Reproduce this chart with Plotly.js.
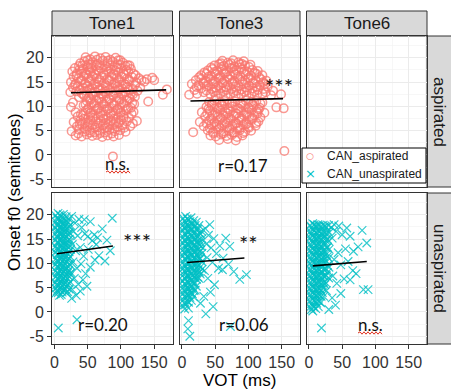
<!DOCTYPE html>
<html><head><meta charset="utf-8">
<script src="https://cdn.plot.ly/plotly-3.0.1.min.js"></script>
<style>html,body{margin:0;padding:0;background:#fff}#chart{width:451px;height:390px}</style>
</head><body><div id="chart"></div>
<script>
// ---------- categories / labels ----------
const tones = ["Tone1", "Tone3", "Tone6"];
const groups = ["aspirated", "unaspirated"];
const seriesNames = ["CAN_aspirated", "CAN_unaspirated"];
const xTickVals = [0, 50, 100, 150];
const yTickVals = [-5, 0, 5, 10, 15, 20];
const yTickText = ["-5", "0", "5", "10", "15", "20"];

// ---------- data: [VOT (ms), onset f0 (semitones)] ----------
const t1Asp = [
 [47,20.1],[54,19.7],[61,20.3],[69,19.9],[77,20.2],[84,19.6],[92,20.0],[99,19.5],
 [50,19.5],[64,19.6],[80,19.4],[96,19.5],
 [39,18.9],[45,19.3],[51,18.7],[58,19.1],[65,18.8],[73,19.4],[80,18.9],[88,19.2],[95,18.7],[103,19.0],[110,18.5],
 [42,18.4],[55,18.6],[68,18.5],[84,18.4],[99,18.6],[113,18.4],
 [31,17.9],[37,18.3],[43,17.7],[50,18.1],[56,17.8],[63,18.4],[70,17.9],[78,18.2],[85,17.6],[93,18.0],[100,17.8],[107,18.3],[115,17.7],
 [38,17.6],[52,17.4],[64,17.5],[78,17.6],[92,17.4],[108,17.5],
 [27,17.2],[34,16.8],[41,17.3],[47,16.9],[54,17.1],[60,16.7],[67,17.3],[74,16.9],[82,17.2],[89,16.6],[96,17.0],[104,16.8],[111,17.2],[119,16.7],
 [33,16.4],[48,16.6],[61,16.5],[75,16.4],[90,16.6],[105,16.5],[122,16.4],
 [29,16.1],[36,15.7],[44,16.2],[51,15.9],[57,16.3],[64,15.8],[71,16.0],[79,15.6],[86,16.2],[94,15.9],[101,16.1],[109,15.7],[117,16.0],[127,15.8],[139,15.6],[147,15.9],
 [41,15.4],[55,15.6],[68,15.5],[83,15.4],[97,15.6],[112,15.5],[131,15.4],
 [25,15.0],[32,14.7],[39,15.2],[46,14.8],[53,15.1],[60,14.6],[67,15.0],[75,14.8],[82,15.3],[90,14.7],[98,15.0],[105,14.6],[113,15.2],[123,14.9],[135,15.1],[150,15.4],
 [31,14.4],[47,14.6],[62,14.5],[77,14.4],[92,14.6],[107,14.5],[121,14.4],
 [28,13.9],[35,14.2],[43,13.8],[50,14.1],[57,13.7],[65,14.0],[72,13.6],[80,14.2],[87,13.8],[95,14.1],[102,13.7],[110,14.0],[118,13.6],[129,13.9],
 [38,13.4],[53,13.6],[67,13.5],[82,13.4],[97,13.6],[112,13.5],
 [24,12.9],[33,13.1],[41,12.7],[48,13.2],[55,12.8],[62,13.0],[70,12.6],[77,13.1],[85,12.9],[92,13.3],[100,12.7],[107,13.0],[115,12.6],[125,13.2],[163,12.4],[169,13.5],
 [44,12.4],[58,12.6],[73,12.5],[88,12.4],[103,12.6],[118,12.5],
 [37,11.9],[45,12.2],[52,11.8],[59,12.1],[67,11.7],[74,12.0],[82,11.6],[89,12.2],[97,11.8],[105,12.1],[113,11.7],[121,12.0],
 [54,11.4],[68,11.6],[83,11.5],[98,11.4],[113,11.6],
 [28,10.8],[49,11.1],[56,10.7],[63,11.2],[71,10.9],[78,11.0],[86,10.6],[93,11.1],[101,10.8],[109,11.2],[117,10.7],[141,11.0],
 [47,10.4],[60,10.6],[74,10.5],[89,10.4],[104,10.6],[120,10.5],
 [25,9.9],[44,10.2],[52,9.8],[60,10.1],[67,9.7],[75,10.0],[83,9.6],[90,10.2],[98,9.8],[106,10.1],[115,9.7],
 [50,9.4],[65,9.6],[80,9.5],[95,9.4],[111,9.6],
 [32,8.8],[47,9.1],[55,8.7],[62,9.2],[70,8.9],[77,9.0],[85,8.6],[92,9.1],[100,8.8],[108,9.2],[119,8.9],
 [40,8.4],[54,8.6],[69,8.5],[84,8.4],[99,8.6],[116,8.5],
 [35,7.9],[43,8.2],[51,7.8],[58,8.1],[66,7.7],[73,8.0],[81,7.6],[89,8.2],[96,7.8],[104,8.1],[112,7.7],
 [44,7.4],[58,7.6],[74,7.5],[89,7.4],[104,7.6],
 [29,6.8],[39,7.1],[47,6.7],[54,7.2],[62,6.9],[70,7.0],[77,6.6],[85,7.1],[92,6.8],[100,7.2],[109,6.9],[124,7.0],
 [38,6.4],[52,6.6],[67,6.5],[82,6.4],[97,6.6],[118,6.5],
 [34,5.9],[42,6.2],[50,5.8],[57,6.1],[65,5.7],[73,6.0],[80,5.6],[88,6.2],[95,5.8],[103,6.1],[114,5.9],
 [46,5.4],[61,5.6],[75,5.5],[90,5.4],[105,5.6],
 [26,4.9],[37,5.2],[45,4.8],[53,5.1],[60,4.7],[68,5.0],[76,4.6],[83,5.2],[91,4.9],[99,5.1],[107,4.8],
 [36,4.4],[54,4.6],[69,4.5],[86,4.4],
 [32,4.0],[41,3.8],[49,4.2],[57,3.9],[64,4.1],[72,3.7],[80,4.0],[89,3.8],[97,4.1],
 [88,-0.3]
];
const t3Asp = [
 [61,19.4],[69,19.0],[77,19.5],[85,19.1],[93,19.3],
 [59,18.9],[74,18.9],[90,18.8],
 [49,18.4],[56,18.7],[63,18.3],[71,18.6],[79,18.2],[87,18.7],[95,18.4],[103,18.6],
 [44,18.0],[59,18.1],[73,17.9],[88,18.0],[101,18.1],
 [39,17.4],[46,17.7],[53,17.3],[60,17.6],[67,17.2],[75,17.8],[82,17.4],[90,17.6],[98,17.2],[106,17.5],[114,17.3],
 [34,17.0],[49,17.1],[63,16.9],[78,17.0],[93,17.1],[109,16.9],
 [29,16.4],[37,16.7],[44,16.3],[51,16.6],[58,16.2],[65,16.8],[73,16.4],[80,16.6],[88,16.2],[96,16.5],[104,16.3],[112,16.7],[121,16.4],
 [26,16.0],[40,16.1],[55,15.9],[69,16.0],[84,16.1],[100,15.9],[116,16.0],
 [21,15.4],[29,15.7],[36,15.3],[43,15.6],[50,15.2],[57,15.8],[64,15.4],[72,15.6],[79,15.2],[87,15.5],[95,15.3],[103,15.7],[111,15.4],[119,15.6],[127,15.3],
 [32,15.0],[47,15.1],[61,14.9],[76,15.0],[91,15.1],[107,14.9],[122,15.0],
 [15,14.6],[25,14.3],[33,14.7],[40,14.4],[47,14.6],[55,14.2],[62,14.8],[69,14.4],[77,14.6],[85,14.2],[93,14.5],[101,14.3],[109,14.7],[117,14.4],[125,14.6],
 [22,14.0],[37,14.1],[51,13.9],[66,14.0],[81,14.1],[96,13.9],[112,14.0],[129,14.1],
 [19,13.4],[29,13.7],[37,13.3],[45,13.6],[52,13.2],[59,13.8],[67,13.4],[75,13.6],[82,13.2],[90,13.5],[98,13.3],[106,13.7],[114,13.4],[123,13.6],[137,13.2],
 [33,12.9],[48,13.0],[63,13.1],[78,12.9],[94,13.0],[109,13.1],[126,12.9],
 [11,12.4],[23,12.6],[43,12.5],[51,12.2],[58,12.7],[66,12.3],[73,12.6],[81,12.2],[89,12.5],[97,12.3],[105,12.7],[113,12.4],[121,12.6],[134,12.3],[149,12.5],
 [41,10.9],[49,11.2],[57,10.8],[64,11.1],[72,10.7],[80,11.0],[88,10.6],[96,11.2],[104,10.9],[112,11.1],[121,10.8],
 [45,10.5],[60,10.4],[75,10.6],[90,10.5],[106,10.4],[118,10.6],
 [37,9.9],[45,10.2],[53,9.8],[61,10.1],[69,9.7],[76,10.0],[84,9.6],[92,10.2],[100,9.8],[108,10.1],[117,9.7],[142,9.8],[153,9.6],
 [40,9.5],[55,9.6],[70,9.4],[86,9.5],[101,9.6],[115,9.4],
 [30,8.8],[42,9.1],[50,8.7],[58,9.2],[65,8.9],[73,9.0],[81,8.6],[89,9.1],[97,8.8],[105,9.2],[113,8.9],[124,8.7],
 [38,8.5],[53,8.4],[68,8.6],[83,8.5],[98,8.4],[114,8.6],
 [35,7.9],[46,8.2],[54,7.8],[62,8.1],[70,7.7],[78,8.0],[86,7.6],[93,8.2],[101,7.8],[109,8.1],[118,7.7],
 [44,7.5],[59,7.6],[74,7.4],[90,7.5],[106,7.6],
 [27,6.8],[41,7.1],[49,6.7],[57,7.2],[65,6.9],[73,7.0],[81,6.6],[89,7.1],[97,6.8],[105,7.2],[115,6.9],
 [37,6.5],[52,6.4],[67,6.6],[82,6.5],[97,6.4],[112,6.6],
 [33,5.9],[44,6.2],[52,5.8],[60,6.1],[68,5.7],[76,6.0],[84,5.6],[92,6.2],[100,5.8],[111,6.0],
 [42,5.5],[57,5.6],[72,5.4],[87,5.5],[101,5.6],
 [17,4.7],[39,5.1],[47,4.8],[55,5.2],[63,4.9],[71,5.0],[79,4.6],[87,5.1],[95,4.8],[104,5.0],
 [47,4.5],[62,4.4],[77,4.6],[92,4.5],
 [43,4.0],[51,3.8],[59,4.2],[67,3.9],[75,4.1],[83,3.7],[91,4.0],
 [56,3.1],[69,3.3],[81,3.0],
 [154,0.8]
];
const t1Un = [
 [1.8,19.9],[2.4,18.6],[1.5,17.4],[2.7,16.2],[1.9,14.9],[2.2,13.5],[1.6,12.3],[2.9,11.0],[2.0,9.8],[1.7,8.4],[2.5,7.3],[1.9,6.1],[2.3,4.9],[1.6,3.8],
 [4.1,19.3],[3.8,18.0],[4.4,16.8],[3.9,15.6],[4.2,14.3],[3.7,13.1],[4.5,11.8],[4.0,10.6],[3.8,9.3],[4.3,8.1],[4.1,6.8],[3.6,5.6],[4.2,4.4],
 [5.6,20.3],[6.3,19.2],[5.8,17.8],[6.5,16.7],[5.4,15.3],[6.1,14.2],[5.9,12.8],[6.6,11.7],[5.5,10.3],[6.2,9.2],[5.7,7.8],[6.4,6.7],[5.8,5.3],[6.1,4.0],
 [8.2,20.0],[7.9,18.8],[8.4,17.2],[7.7,16.0],[8.1,14.7],[8.5,13.4],[7.8,12.2],[8.3,10.9],[7.9,9.6],[8.2,8.3],[7.6,7.1],[8.4,5.8],[8.0,4.6],[7.8,3.4],
 [9.7,19.8],[10.4,18.7],[9.5,17.6],[10.2,16.1],[9.9,15.0],[10.6,13.7],[9.6,12.6],[10.3,11.2],[9.8,10.0],[10.5,8.7],[9.6,7.5],[10.1,6.2],[9.9,5.1],[10.4,3.6],
 [12.1,19.4],[11.8,18.1],[12.3,16.9],[11.9,15.6],[12.5,14.2],[11.6,13.0],[12.2,11.7],[11.9,10.5],[12.4,9.2],[11.7,8.0],[12.1,6.7],[12.3,5.4],[11.8,4.1],
 [13.6,20.1],[14.3,18.4],[13.9,17.2],[14.5,15.9],[13.7,14.6],[14.2,13.2],[13.8,12.0],[14.6,10.8],[13.5,9.5],[14.1,8.3],[13.9,7.0],[14.4,5.7],[13.7,4.4],
 [16.2,19.0],[15.8,17.6],[16.4,16.4],[15.9,15.1],[16.1,13.8],[15.7,12.5],[16.3,11.2],[16.0,9.9],[15.8,8.6],[16.4,7.3],[16.1,6.0],[15.9,4.7],
 [17.8,19.6],[18.5,18.1],[17.6,16.9],[18.3,15.5],[17.9,14.3],[18.6,12.9],[17.7,11.6],[18.2,10.4],[17.9,9.0],[18.4,7.8],[17.6,6.5],[18.1,5.3],[18.5,4.0],
 [20.1,18.6],[19.8,17.3],[20.3,16.0],[19.7,14.7],[20.2,13.4],[19.9,12.1],[20.4,10.8],[19.6,9.5],[20.1,8.2],[19.9,6.9],[20.3,5.6],[20.0,4.2],
 [21.7,19.2],[22.4,17.7],[21.9,16.4],[22.6,15.0],[21.5,13.8],[22.2,12.4],[21.8,11.1],[22.5,9.9],[21.6,8.6],[22.3,7.3],[21.9,6.0],[22.1,4.7],
 [24.3,17.9],[23.8,16.2],[24.1,14.6],[24.5,12.9],[23.9,11.4],[24.2,9.6],[23.7,7.9],[24.0,6.2],
 [26,19.7],[31,18.3],[37,19.1],[29,16.6],[35,15.7],[41,17.4],[46,16.1],[54,18.6],[60,15.9],[27,13.9],[32,12.6],[39,13.3],[44,11.5],[51,12.9],
 [57,14.7],[65,15.3],[72,17.1],[79,14.8],[87,19.3],[76,10.5],[67,11.6],[61,10.7],[28,10.3],[34,9.0],[40,9.9],[47,7.9],[54,9.2],[30,6.9],
 [36,5.7],[43,6.6],[27,4.6],[33,3.4],[39,4.3],[49,5.3],[26,2.8],[84,12.6],[63,13.9],[25,8.1],[50,15.5],[45,19.0],[6,-3.3],[34,-1.6]
];
const t3Un = [
 [1.8,19.3],[2.5,18.0],[1.6,16.8],[2.3,15.4],[1.9,14.2],[2.6,12.9],[1.7,11.6],[2.2,10.3],[2.0,9.0],[2.7,7.7],[1.5,6.4],[2.4,5.1],[1.9,3.8],[2.2,2.5],[1.7,1.2],
 [4.1,18.7],[3.8,17.4],[4.3,16.1],[3.9,14.8],[4.4,13.6],[3.7,12.3],[4.2,11.0],[4.0,9.7],[3.8,8.4],[4.5,7.0],[4.1,5.8],[3.6,4.5],[4.2,3.2],[3.9,1.9],[4.3,0.6],
 [5.7,19.7],[6.4,18.4],[5.5,17.2],[6.2,15.9],[5.9,14.6],[6.6,13.3],[5.6,12.0],[6.3,10.7],[5.8,9.4],[6.1,8.1],[5.4,6.8],[6.5,5.5],[5.9,4.2],[6.2,2.9],[5.8,1.5],
 [8.0,19.2],[7.8,17.9],[8.3,16.6],[7.9,15.3],[8.4,14.0],[7.7,12.7],[8.1,11.4],[8.5,10.1],[7.8,8.8],[8.2,7.5],[7.9,6.2],[8.3,4.9],[7.6,3.6],[8.1,2.2],
 [9.6,19.0],[10.3,17.7],[9.8,16.5],[10.5,15.1],[9.5,13.9],[10.2,12.6],[9.9,11.3],[10.6,10.0],[9.7,8.7],[10.1,7.4],[9.6,6.1],[10.4,4.8],[9.8,3.5],[10.2,2.0],[9.9,0.8],
 [12.2,18.6],[11.8,17.3],[12.4,16.0],[11.7,14.7],[12.1,13.4],[12.5,12.1],[11.9,10.8],[12.3,9.5],[11.6,8.2],[12.0,6.9],[12.4,5.6],[11.8,4.3],[12.2,3.0],
 [13.8,19.4],[14.4,18.1],[13.6,16.9],[14.2,15.6],[13.9,14.3],[14.6,13.0],[13.7,11.7],[14.3,10.4],[13.8,9.1],[14.5,7.8],[13.6,6.5],[14.1,5.2],[13.9,3.9],[14.4,2.4],
 [16.1,18.2],[15.8,16.9],[16.3,15.5],[15.9,14.2],[16.4,12.9],[15.7,11.6],[16.2,10.3],[15.9,9.0],[16.1,7.6],[15.8,6.3],[16.3,5.0],[15.9,3.7],
 [17.7,18.8],[18.4,17.5],[17.9,16.2],[18.6,14.9],[17.5,13.6],[18.2,12.3],[17.8,11.0],[18.5,9.7],[17.6,8.4],[18.3,7.1],[17.9,5.8],[18.1,4.4],[17.7,3.1],
 [20.0,17.8],[19.7,16.5],[20.3,15.1],[19.8,13.8],[20.4,12.5],[19.9,11.2],[20.2,9.9],[19.6,8.6],[20.1,7.2],[19.8,5.9],[20.2,4.5],
 [21.8,18.5],[22.5,17.1],[21.6,15.8],[22.3,14.5],[21.9,13.2],[22.6,11.9],[21.7,10.6],[22.4,9.3],[21.5,8.0],[22.2,6.7],[21.8,5.3],
 [24.1,17.0],[23.8,15.5],[24.4,14.1],[23.9,12.8],[24.2,11.4],[23.7,10.0],[24.3,8.6],[23.9,7.2],
 [25.7,17.8],[26.4,16.3],[25.9,14.9],[26.6,13.7],[25.5,12.2],[26.2,10.9],[25.8,9.6],[26.5,8.2],[25.6,6.9],
 [28.2,16.0],[27.8,14.3],[28.4,12.7],[27.9,11.0],[28.1,9.3],[27.7,7.8],
 [29.8,16.6],[30.5,15.1],[29.6,13.5],[30.3,12.1],[29.9,10.4],[30.6,8.8],
 [35,17.2],[40,15.8],[37,14.0],[44,13.2],[48,15.1],[52,12.0],[57,13.6],[66,15.2],[72,13.5],[62,11.1],[46,10.2],[55,9.0],[61,8.7],[70,9.8],
 [87,6.7],[97,7.7],[78,8.3],[34,8.5],[39,6.9],[49,5.6],[43,4.1],[33,3.2],[47,1.1],[28,1.8],[36,-0.4],[10,-1.8],[9,-3.5],[12,-5.0],[73,-3.0],[38,11.2],[42,18.0]
];
const t6Un = [
 [1.7,17.9],[2.4,16.6],[1.6,15.3],[2.2,14.0],[1.9,12.7],[2.6,11.4],[1.5,10.1],[2.3,8.8],[2.0,7.5],[2.7,6.2],[1.8,4.9],[2.4,3.6],[1.6,2.3],[2.1,1.0],
 [4.1,17.4],[3.8,16.1],[4.4,14.8],[3.9,13.5],[4.2,12.2],[3.7,10.9],[4.5,9.6],[4.0,8.3],[3.8,7.0],[4.3,5.7],[4.1,4.4],[3.6,3.1],[4.2,1.7],[3.9,0.5],
 [5.8,18.2],[6.5,16.9],[5.6,15.6],[6.3,14.3],[5.9,13.0],[6.6,11.7],[5.5,10.4],[6.2,9.1],[5.8,7.8],[6.4,6.5],[5.7,5.2],[6.1,3.9],[5.9,2.6],[6.3,1.2],[6.0,0.2],
 [8.2,18.0],[7.9,16.7],[8.4,15.4],[7.7,14.1],[8.1,12.8],[8.5,11.5],[7.8,10.2],[8.3,8.9],[7.9,7.6],[8.2,6.3],[7.6,5.0],[8.4,3.7],[8.0,2.4],[7.8,1.0],
 [9.6,17.7],[10.3,16.4],[9.9,15.1],[10.6,13.8],[9.7,12.5],[10.4,11.2],[9.5,9.9],[10.2,8.6],[9.8,7.3],[10.5,6.0],[9.6,4.7],[10.1,3.4],[9.9,2.1],[10.4,0.7],
 [12.1,17.6],[11.8,16.3],[12.3,15.0],[11.9,13.7],[12.5,12.4],[11.6,11.1],[12.2,9.8],[11.9,8.5],[12.4,7.2],[11.7,5.9],[12.1,4.6],[12.3,3.3],[11.8,1.8],
 [13.7,18.0],[14.4,16.7],[13.5,15.4],[14.2,14.1],[13.9,12.8],[14.6,11.5],[13.6,10.2],[14.3,8.9],[13.8,7.6],[14.5,6.3],[13.7,5.0],[14.0,3.7],[13.8,2.4],[14.2,1.1],
 [16.2,17.9],[15.8,16.5],[16.4,15.2],[15.9,13.9],[16.1,12.6],[15.7,11.3],[16.3,10.0],[16.0,8.7],[15.8,7.4],[16.4,6.1],[16.1,4.8],[15.9,3.4],[16.2,2.1],
 [17.6,17.6],[18.3,16.2],[17.8,14.9],[18.5,13.6],[17.7,12.3],[18.4,11.0],[17.9,9.7],[18.6,8.4],[17.5,7.1],[18.2,5.8],[17.9,4.5],[18.3,3.2],[17.8,1.9],
 [20.1,17.2],[19.8,15.9],[20.3,14.5],[19.7,13.2],[20.2,11.9],[19.9,10.6],[20.4,9.3],[19.6,8.0],[20.1,6.7],[19.9,5.4],[20.3,4.0],
 [21.7,17.9],[22.4,16.5],[21.9,15.2],[22.6,13.9],[21.6,12.6],[22.3,11.3],[21.8,10.0],[22.5,8.7],[21.5,7.4],[22.2,6.1],[21.9,4.8],[22.4,3.2],
 [24.3,17.7],[23.8,15.8],[24.1,14.3],[24.5,12.4],[23.9,10.8],[24.2,9.0],[23.7,7.3],[24.0,5.6],
 [25.8,17.5],[26.5,16.0],[25.6,14.7],[26.3,13.2],[25.9,11.8],[26.6,10.3],[25.7,8.9],[26.2,7.5],[25.8,6.0],[26.4,4.4],
 [28.1,16.8],[27.8,15.0],[28.3,13.3],[27.9,11.4],[28.2,9.6],[27.7,8.1],
 [29.7,17.8],[30.4,16.3],[29.9,14.6],[30.6,12.9],[29.6,11.1],[30.3,9.2],[29.8,7.0],
 [34,17.4],[38,18.0],[35,15.2],[41,16.6],[45,17.7],[50,15.9],[57,17.3],[62,15.6],[87,14.2],[67,12.5],[74,13.4],[55,13.0],[44,12.2],[38,10.8],
 [48,9.7],[59,10.4],[66,8.5],[36,7.4],[42,5.9],[53,6.8],[62,6.6],[82,4.6],[89,4.6],[71,7.9],[48,3.8],[35,2.9],[40,1.4],[30,0.5],[19,-3.3],[80,16.8]
];

// fitted regression lines per panel: [[vot start, vot end],[f0 start, f0 end]]
const fitT1Asp = [[25, 168], [12.8, 13.4]];
const fitT3Asp = [[13, 152], [11.1, 11.6]];
const fitT1Un  = [[4, 88],   [12.0, 13.6]];
const fitT3Un  = [[8, 94],   [10.2, 11.1]];
const fitT6Un  = [[6, 87],   [9.5, 10.4]];

// significance / correlation labels per panel (Tone1, Tone3, Tone6 x aspirated, unaspirated)
const sigLabels = ["", "***", "", "***", "**", ""];
const rLabels   = ["n.s.", "r=0.17", "", "r=0.20", "r=0.06", "n.s."];

// ---------- layout geometry ----------
const W = 451, H = 390;
const colPx = [[52, 172.5], [179.5, 300], [306.5, 427]];
const rowPx = [[36, 187], [193, 344]];
const xRange = [-3.5, 177.5];
const yRange = [-6.6, 24.5];
const fx = px => px / W;
const fy = py => 1 - py / H;

const salmon = "#F8766D", cyan = "#00BFC4";
const tickFont = {family: "Liberation Sans, Arial, sans-serif", size: 16, color: "#333333"};

const panels = [
  {pts: t1Asp, fit: fitT1Asp, kind: 0},
  {pts: t3Asp, fit: fitT3Asp, kind: 0},
  {pts: null,  fit: null,     kind: 0},
  {pts: t1Un,  fit: fitT1Un,  kind: 1},
  {pts: t3Un,  fit: fitT3Un,  kind: 1},
  {pts: t6Un,  fit: fitT6Un,  kind: 1}
];

const layout = {
  width: W, height: H,
  margin: {l: 0, r: 0, t: 0, b: 0},
  paper_bgcolor: "#ffffff", plot_bgcolor: "#ffffff",
  showlegend: false,
  font: {family: "Liberation Sans, Arial, sans-serif", color: "#1A1A1A"},
  shapes: [], annotations: []
};
const traces = [];

panels.forEach((p, i) => {
  const r = Math.floor(i / 3), c = i % 3, n = i + 1;
  const xs = n === 1 ? "" : String(n);
  const xa = {
    domain: [fx(colPx[c][0]), fx(colPx[c][1])], range: xRange, anchor: "y" + xs,
    tickmode: "array", tickvals: xTickVals, ticktext: xTickVals.map(String),
    showticklabels: r === 1, ticks: r === 1 ? "outside" : "", ticklen: 4, tickwidth: 1, tickcolor: "#333333",
    tickfont: tickFont,
    showgrid: true, gridcolor: "#EBEBEB", gridwidth: 1,
    minor: {tickmode: "array", tickvals: [25, 75, 125, 175], showgrid: true, gridcolor: "#F2F2F2", gridwidth: 0.6, ticks: ""},
    zeroline: false, showline: true, mirror: true, linecolor: "#333333", linewidth: 1, fixedrange: true
  };
  const ya = {
    domain: [fy(rowPx[r][1]), fy(rowPx[r][0])], range: yRange, anchor: "x" + xs,
    tickmode: "array", tickvals: yTickVals, ticktext: yTickText,
    showticklabels: c === 0, ticks: c === 0 ? "outside" : "", ticklen: 4, tickwidth: 1, tickcolor: "#333333",
    tickfont: tickFont,
    showgrid: true, gridcolor: "#EBEBEB", gridwidth: 1,
    minor: {tickmode: "array", tickvals: [-2.5, 2.5, 7.5, 12.5, 17.5, 22.5], showgrid: true, gridcolor: "#F2F2F2", gridwidth: 0.6, ticks: ""},
    zeroline: false, showline: true, mirror: true, linecolor: "#333333", linewidth: 1, fixedrange: true
  };
  layout["xaxis" + xs] = xa;
  layout["yaxis" + xs] = ya;

  if (p.pts) {
    const col = p.kind === 0 ? salmon : cyan;
    traces.push({
      type: "scatter", mode: "markers", name: seriesNames[p.kind],
      x: p.pts.map(d => d[0]), y: p.pts.map(d => d[1]),
      xaxis: "x" + xs, yaxis: "y" + xs, cliponaxis: true, hoverinfo: "skip",
      marker: p.kind === 0
        ? {symbol: "circle-open", size: 8.5, color: col, opacity: 0.75, line: {width: 1.5, color: col}}
        : {symbol: "x-thin-open", size: 8.5, color: col, opacity: 0.8, line: {width: 1.2, color: col}}
    });
    traces.push({
      type: "scatter", mode: "lines", x: p.fit[0], y: p.fit[1],
      xaxis: "x" + xs, yaxis: "y" + xs, hoverinfo: "skip",
      line: {color: "#000000", width: 1.6}
    });
  } else {
    traces.push({type: "scatter", mode: "markers", x: [], y: [], xaxis: "x" + xs, yaxis: "y" + xs, hoverinfo: "skip"});
  }
});

// statistic labels (positions in data units of each panel)
const sigPos = [null, [146, 14.0], null, [124.8, 14.6], [99.5, 14.2], null];
const rPos = [[95.6, -1.8], [92, -2.1], null, [73.8, -2.6], [93.5, -2.6], [93.3, -2.5]];
const annFont = {family: "Lato, Carlito, Calibri, sans-serif", color: "#111111"};
for (let i = 0; i < 6; i++) {
  const xs = i === 0 ? "" : String(i + 1);
  if (sigLabels[i]) layout.annotations.push({text: sigLabels[i], x: sigPos[i][0], y: sigPos[i][1], xref: "x" + xs, yref: "y" + xs,
    showarrow: false, xanchor: "center", yanchor: "middle", font: Object.assign({size: 22}, annFont)});
  if (rLabels[i]) layout.annotations.push({text: rLabels[i], x: rPos[i][0], y: rPos[i][1], xref: "x" + xs, yref: "y" + xs,
    showarrow: false, xanchor: "center", yanchor: "middle", font: Object.assign({size: 17}, annFont)});
}

// red wavy spell-check underlines under "n.s."
function zig(x0, x1, y) {
  let d = "M" + fx(x0) + "," + fy(y), up = true;
  for (let x = x0 + 2; x <= x1; x += 2) { d += " L" + fx(x) + "," + fy(y + (up ? -1.2 : 1.2)); up = !up; }
  return d;
}
layout.shapes.push({type: "path", xref: "paper", yref: "paper", path: zig(106, 130, 172), line: {color: "#E0301E", width: 1}});
layout.shapes.push({type: "path", xref: "paper", yref: "paper", path: zig(358, 382, 333), line: {color: "#E0301E", width: 1}});

// facet strips
const stripFill = "#D9D9D9", stripLine = "#333333";
const stripFont = {family: "Liberation Sans, Arial, sans-serif", size: 17, color: "#1A1A1A"};
tones.forEach((t, c) => {
  layout.shapes.push({type: "rect", xref: "paper", yref: "paper", x0: fx(colPx[c][0]), x1: fx(colPx[c][1]), y0: fy(36), y1: fy(11),
    fillcolor: stripFill, line: {color: stripLine, width: 1}, layer: "below"});
  layout.annotations.push({text: t, xref: "paper", yref: "paper", x: fx((colPx[c][0] + colPx[c][1]) / 2), y: fy(23.5),
    showarrow: false, xanchor: "center", yanchor: "middle", font: stripFont});
});
groups.forEach((g, r) => {
  layout.shapes.push({type: "rect", xref: "paper", yref: "paper", x0: fx(427), x1: fx(453), y0: fy(rowPx[r][1]), y1: fy(rowPx[r][0]),
    fillcolor: stripFill, line: {color: stripLine, width: 1}, layer: "below"});
  layout.annotations.push({text: g, xref: "paper", yref: "paper", x: fx(439.5), y: fy((rowPx[r][0] + rowPx[r][1]) / 2),
    showarrow: false, xanchor: "center", yanchor: "middle", textangle: 90, font: stripFont});
});

// axis titles
const titleFont = {family: "Liberation Sans, Arial, sans-serif", size: 17, color: "#000000"};
layout.annotations.push({text: "VOT (ms)", xref: "paper", yref: "paper", x: fx(239), y: fy(380),
  showarrow: false, xanchor: "center", yanchor: "middle", font: titleFont});
layout.annotations.push({text: "Onset f0 (semitones)", xref: "paper", yref: "paper", x: fx(14), y: fy(192),
  showarrow: false, xanchor: "center", yanchor: "middle", textangle: -90, font: titleFont});

// legend box
layout.shapes.push({type: "rect", xref: "paper", yref: "paper", x0: fx(302), x1: fx(426), y0: fy(183), y1: fy(148),
  fillcolor: "#ffffff", line: {color: "#000000", width: 1}, layer: "above"});
const legFont = {family: "Liberation Sans, Arial, sans-serif", size: 12, color: "#1A1A1A"};
layout.annotations.push({text: "○", xref: "paper", yref: "paper", x: fx(310), y: fy(155.5), showarrow: false,
  xanchor: "center", yanchor: "middle", font: {family: "DejaVu Sans", size: 9, color: salmon}});
layout.annotations.push({text: "×", xref: "paper", yref: "paper", x: fx(310), y: fy(173), showarrow: false,
  xanchor: "center", yanchor: "middle", font: {family: "DejaVu Sans", size: 13, color: cyan}});
seriesNames.forEach((s, k) => {
  layout.annotations.push({text: s, xref: "paper", yref: "paper", x: fx(325), y: fy(k === 0 ? 155.5 : 173.5), showarrow: false,
    xanchor: "left", yanchor: "middle", font: legFont});
});

Plotly.newPlot("chart", traces, layout, {staticPlot: true, displayModeBar: false});
</script>
</body></html>
